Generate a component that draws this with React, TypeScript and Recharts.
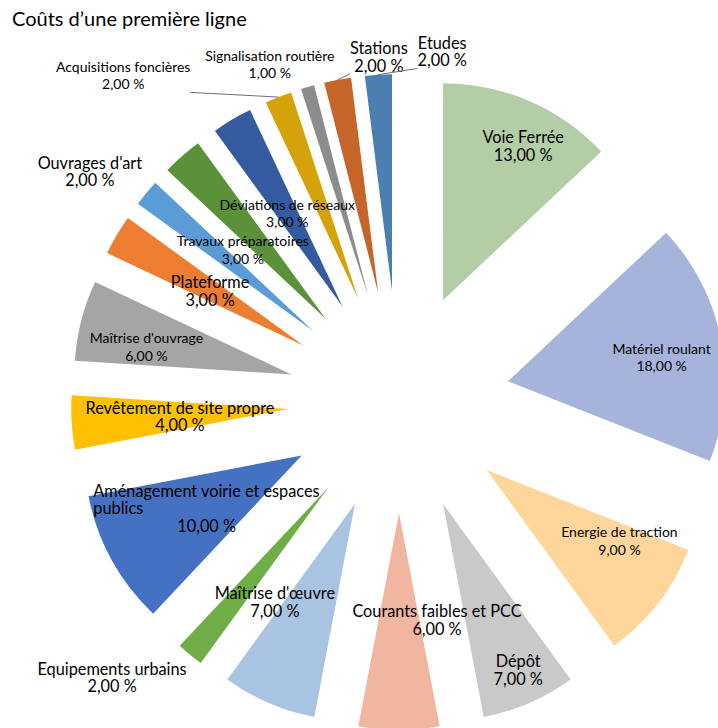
import { PieChart, Pie, Sector, Cell } from "recharts";

const categories = [
  "Voie Ferrée",
  "Matériel roulant",
  "Energie de traction",
  "Dépôt",
  "Courants faibles et PCC",
  "Maîtrise d'œuvre",
  "Equipements urbains",
  "Aménagement voirie et espaces publics",
  "Revêtement de site propre",
  "Maîtrise d'ouvrage",
  "Plateforme",
  "Ouvrages d'art",
  "Travaux préparatoires",
  "Déviations de réseaux",
  "Acquisitions foncières",
  "Signalisation routière",
  "Stations",
  "Etudes",
];
const shares = [13, 18, 9, 7, 6, 7, 2, 10, 4, 6, 3, 2, 3, 3, 2, 1, 2, 2];
const colors = [
  "#B3CEA6", "#A6B4DB", "#FED69B", "#C9C9C9", "#F1B6A0", "#A9C3E3",
  "#6FAD46", "#4571C3", "#FFC000", "#A5A5A5", "#ED7D31", "#5C9CD6",
  "#5A9139", "#345AA0", "#D5A20A", "#8C8C8C", "#C5652A", "#4A7FB0",
];

const data = categories.map((name, i) => ({ name, value: shares[i] }));

// chart geometry
const CX = 399;
const CY = 402;
const R = 217;
const EXPLODE = 111;
const RAD = Math.PI / 180;
const FONT = "Lato, 'Open Sans', sans-serif";

// labels dragged away from their default spot, like in the original
const labelNudge: Record<string, [number, number]> = {
  "Voie Ferrée": [37, -55],
  "Matériel roulant": [47, -4],
  "Energie de traction": [47, 4],
  "Dépôt": [32, 66],
  "Courants faibles et PCC": [38, -2],
  "Maîtrise d'œuvre": [-37, -2],
  "Equipements urbains": [-147, 106],
  "Maîtrise d'ouvrage": [-40, -1],
  "Ouvrages d'art": [-140, -91],
  "Travaux préparatoires": [-11, 12],
  "Acquisitions foncières": [-195, -123],
  "Signalisation routière": [-68, -127],
  "Stations": [21, -130],
  "Etudes": [57, -132],
};
const smallLabels = [
  "Matériel roulant",
  "Energie de traction",
  "Maîtrise d'ouvrage",
  "Acquisitions foncières",
  "Signalisation routière",
  "Déviations de réseaux",
  "Travaux préparatoires",
];
const leaderLabels = ["Acquisitions foncières", "Stations", "Etudes"];

let ctx: CanvasRenderingContext2D | null = null;
function textWidth(text: string, size: number) {
  if (!ctx) ctx = document.createElement("canvas").getContext("2d");
  if (!ctx) return text.length * size * 0.5;
  ctx.font = `${size}px Lato`;
  return ctx.measureText(text).width;
}

const fmt = (v: number) => `${v.toFixed(2).replace(".", ",")} %`;

function ExplodedSector(props: any) {
  const { cx, cy, midAngle, innerRadius, outerRadius, startAngle, endAngle, fill } = props;
  const dx = EXPLODE * Math.cos(-midAngle * RAD);
  const dy = EXPLODE * Math.sin(-midAngle * RAD);
  return (
    <Sector
      cx={cx + dx}
      cy={cy + dy}
      innerRadius={innerRadius}
      outerRadius={outerRadius}
      startAngle={startAngle}
      endAngle={endAngle}
      fill={fill}
      stroke="none"
    />
  );
}

function renderLabel(props: any) {
  const { cx, cy, midAngle, outerRadius, index } = props;
  const name = categories[index];
  const value = shares[index];
  const cos = Math.cos(-midAngle * RAD);
  const sin = Math.sin(-midAngle * RAD);
  const r0 = EXPLODE + outerRadius / 2;
  const [ndx, ndy] = labelNudge[name] ?? [0, 0];
  const x = cx + r0 * cos + ndx;
  const y = cy + r0 * sin + ndy;
  const size = smallLabels.includes(name) ? 14 : 16.3;
  const lh = 17.5;

  // long name wraps onto two lines, left aligned under the first
  const lines: string[] = [];
  if (name.length > 30) {
    const words = name.split(" ");
    let cur = "";
    words.forEach((w) => {
      const next = cur ? `${cur} ${w}` : w;
      if (next.length > 29) {
        lines.push(cur);
        cur = w;
      } else cur = next;
    });
    lines.push(cur);
  } else lines.push(name);

  const total = lines.length + 1;
  const top = y - ((total - 1) * lh) / 2;
  const w0 = textWidth(lines[0], size);
  const wv = textWidth(fmt(value), size);
  const blockW = Math.max(w0, wv);

  let leader = null;
  if (leaderLabels.includes(name)) {
    const ax = cx + (EXPLODE + outerRadius) * cos;
    const ay = cy + (EXPLODE + outerRadius) * sin;
    const lx = x < ax ? x + blockW / 2 : x - blockW / 2;
    const ly = y + lh;
    leader = <line x1={ax} y1={ay} x2={lx} y2={ly} stroke="#6f6f6f" strokeWidth={1} />;
  }

  return (
    <g key={`lab-${index}`}>
      {leader}
      {lines.map((ln, i) => (
        <text
          key={i}
          x={lines.length > 1 ? x - w0 / 2 : x}
          y={top + i * lh}
          textAnchor={lines.length > 1 ? "start" : "middle"}
          dominantBaseline="central"
          fontFamily={FONT}
          fontSize={size}
          fill="#000"
        >
          {ln}
        </text>
      ))}
      <text
        x={x}
        y={top + lines.length * lh}
        textAnchor="middle"
        dominantBaseline="central"
        fontFamily={FONT}
        fontSize={size}
        fill="#000"
      >
        {fmt(value)}
      </text>
    </g>
  );
}

export default function App() {
  return (
    <div style={{ position: "absolute", left: 0, top: 0, width: 718, height: 728, background: "#fff" }}>
      <div
        style={{
          position: "absolute",
          left: 12,
          top: 8,
          fontFamily: FONT,
          fontSize: 20,
          lineHeight: "20px",
          color: "#000",
          whiteSpace: "nowrap",
        }}
      >
        Coûts d’une première ligne
      </div>
      <PieChart width={718} height={728} margin={{ top: 0, right: 0, bottom: 0, left: 0 }}>
        <Pie
          data={data}
          dataKey="value"
          nameKey="name"
          cx={CX}
          cy={CY}
          innerRadius={0}
          outerRadius={R}
          startAngle={90}
          endAngle={-270}
          stroke="none"
          shape={ExplodedSector}
          label={renderLabel}
          labelLine={false}
          isAnimationActive={false}
        >
          {data.map((d, i) => (
            <Cell key={d.name} fill={colors[i]} />
          ))}
        </Pie>
      </PieChart>
    </div>
  );
}
